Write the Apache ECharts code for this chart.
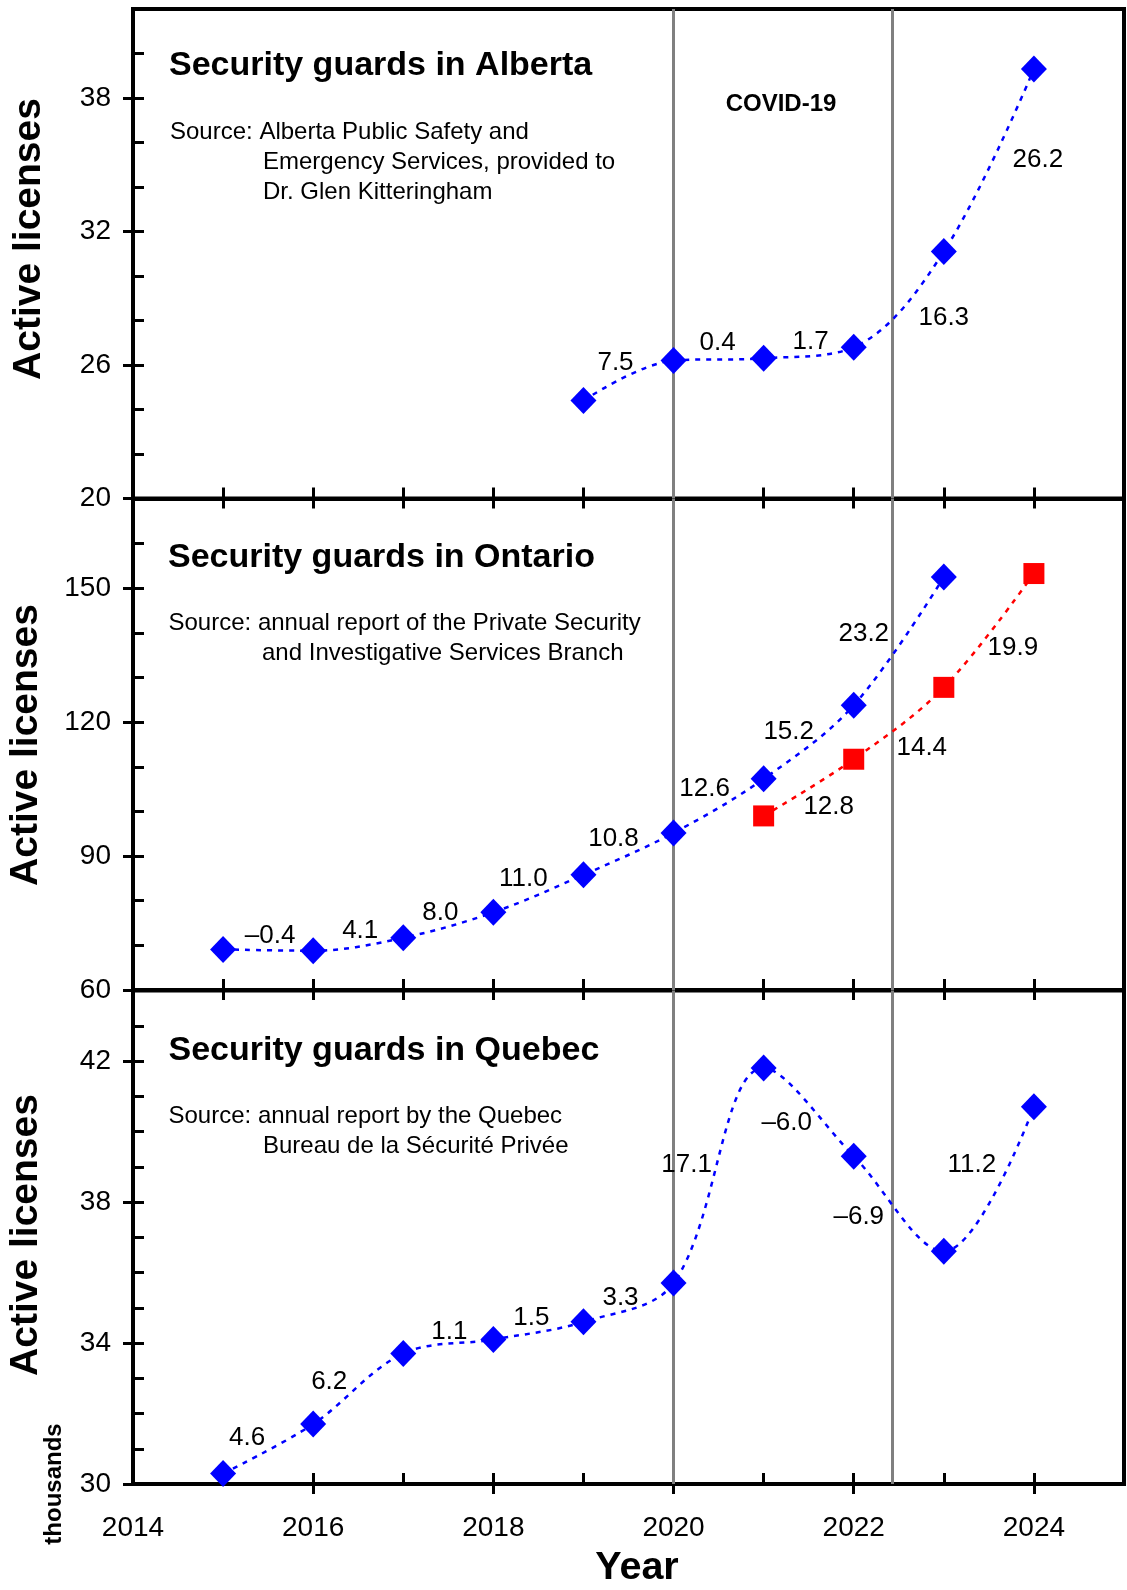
<!DOCTYPE html>
<html><head><meta charset="utf-8">
<script src="https://cdn.jsdelivr.net/npm/echarts@6/dist/echarts.min.js"></script>
<style>html,body{margin:0;padding:0;background:#fff}#c{width:1127px;height:1590px}</style>
</head><body><div id="c"></div>
<script>
// ---------------- DATA ----------------
const albertaYears = [2019, 2020, 2021, 2022, 2023, 2024];
const albertaValues = [24.4, 26.2, 26.3, 26.8, 31.1, 39.3];
const albertaGrowth = ['7.5', '0.4', '1.7', '16.3', '26.2'];

const ontarioYears = [2015, 2016, 2017, 2018, 2019, 2020, 2021, 2022, 2023];
const ontarioValues = [69.1, 68.8, 71.7, 77.4, 85.8, 95.2, 107.3, 123.8, 152.5];
const ontarioGrowth = ['\u20130.4', '4.1', '8.0', '11.0', '10.8', '12.6', '15.2', '23.2'];

const ontarioRedYears = [2021, 2022, 2023, 2024];
const ontarioRedValues = [99.0, 111.7, 127.8, 153.3];
const ontarioRedGrowth = ['12.8', '14.4', '19.9'];

const quebecYears = [2015, 2016, 2017, 2018, 2019, 2020, 2021, 2022, 2023, 2024];
const quebecValues = [30.3, 31.7, 33.7, 34.1, 34.6, 35.7, 41.8, 39.3, 36.6, 40.7];
const quebecGrowth = ['4.6', '6.2', '1.1', '1.5', '3.3', '17.1', '\u20136.0', '\u20136.9', '11.2'];

const covidLines = [2020, 2022.43];
const xTickYears = [2015, 2016, 2017, 2018, 2019, 2020, 2021, 2022, 2023, 2024];
const xLabelYears = [2014, 2016, 2018, 2020, 2022, 2024];
const xMajorYears = [2016, 2018, 2020, 2022, 2024];

const albertaMajor = [20, 26, 32, 38];
const albertaMinor = [22, 24, 28, 30, 34, 36, 40];
const ontarioMajor = [60, 90, 120, 150];
const ontarioMinor = [70, 80, 100, 110, 130, 140, 160];
const quebecMajor = [30, 34, 38, 42];
const quebecMinor = [31, 32, 33, 35, 36, 37, 39, 40, 41, 43];

// ---------------- LAYOUT / STYLE ----------------
const FONT = '"Liberation Sans", Arial, Helvetica, sans-serif';
const BLUE = '#0000ff', RED = '#ff0000', GRAY = '#808080';
const layout = [
  {top: 9, height: 489.5, ymin: 20, ymax: 42, major: albertaMajor, minor: albertaMinor, outX: xTickYears, labels: false},
  {top: 499, height: 491, ymin: 60, ymax: 170, major: ontarioMajor, minor: ontarioMinor, outX: xTickYears, labels: false},
  {top: 990.5, height: 493.5, ymin: 30, ymax: 44, major: quebecMajor, minor: quebecMinor, outX: xMajorYears, labels: true}
];
// pixel offsets of growth labels from segment midpoints
const albertaLabelOffsets = [[-13,-18],[-1,-17],[2,-11],[45,18],[49,0]];
const ontarioLabelOffsets = [[2,-14],[2,-13],[-8,-12],[-15,-15],[-15,-15],[-14,-17],[-20,-10],[-35,-7]];
const ontarioRedLabelOffsets = [[20,19],[23,25],[24,17]];
const quebecLabelOffsets = [[-21,-11],[-29,-7],[1,-15],[-7,-13],[-8,-5],[-32,-11],[-22,11],[-40,13],[-17,-14]];

const pairs = (xs, vs) => xs.map((x, i) => [x, vs[i]]);
const mids = (xs, vs, texts, offs) => texts.map((t, i) => ({
  value: [(xs[i] + xs[i + 1]) / 2, (vs[i] + vs[i + 1]) / 2],
  label: {formatter: t, offset: offs[i]}
}));

const grids = [], xAxes = [], yAxes = [], series = [];
layout.forEach((L, p) => {
  grids.push({left: 133, right: 3, top: L.top, height: L.height, show: true,
    borderColor: '#000', borderWidth: 4, backgroundColor: 'transparent'});
  const tickStyle = {color: '#000', width: 3};
  xAxes.push({gridIndex: p, type: 'value', min: 2014, max: 2025, position: 'bottom',
    axisLine: {show: false, onZero: false}, splitLine: {show: false},
    axisTick: {show: true, inside: true, length: 11, lineStyle: tickStyle, customValues: xTickYears},
    axisLabel: {show: false}});
  xAxes.push({gridIndex: p, type: 'value', min: 2014, max: 2025, position: 'bottom',
    axisLine: {show: false, onZero: false}, splitLine: {show: false},
    axisTick: {show: true, inside: false, length: 10, lineStyle: tickStyle, customValues: L.outX},
    axisLabel: {show: L.labels, customValues: xLabelYears, formatter: v => String(v),
      fontSize: 28, fontFamily: FONT, color: '#000', margin: 30}});
  yAxes.push({gridIndex: p, type: 'value', min: L.ymin, max: L.ymax, position: 'left',
    axisLine: {show: false, onZero: false}, splitLine: {show: false},
    axisTick: {show: true, inside: true, length: 11, lineStyle: tickStyle, customValues: L.major.concat(L.minor)},
    axisLabel: {show: false}});
  yAxes.push({gridIndex: p, type: 'value', min: L.ymin, max: L.ymax, position: 'left',
    axisLine: {show: false, onZero: false}, splitLine: {show: false},
    axisTick: {show: true, inside: false, length: 10, lineStyle: tickStyle, customValues: L.major},
    axisLabel: {show: true, customValues: L.major, formatter: v => String(v),
      fontSize: 28, fontFamily: FONT, color: '#000', margin: 22}});
});

function lineSeries(p, xs, vs, color, symbol, size) {
  return {type: 'line', xAxisIndex: 2 * p, yAxisIndex: 2 * p, data: pairs(xs, vs), smooth: 0.35,
    symbol: symbol, symbolSize: size, showSymbol: true, z: 10,
    itemStyle: {color: color, borderWidth: 0, opacity: 1}, lineStyle: {color: color, width: 2.5, type: [5, 6]}};
}
function labelSeries(p, items) {
  return {type: 'scatter', xAxisIndex: 2 * p, yAxisIndex: 2 * p, data: items, symbolSize: 0.1, z: 12,
    itemStyle: {color: 'transparent', opacity: 1}, silent: true,
    label: {show: true, position: 'inside', fontSize: 26, fontFamily: FONT, color: '#000',
      opacity: 1, textBorderWidth: 0, textShadowBlur: 0}};
}
function covidSeries(p) {
  return {type: 'line', xAxisIndex: 2 * p, yAxisIndex: 2 * p, data: [], z: 1, silent: true,
    markLine: {silent: true, symbol: 'none', z: 1, animation: false, label: {show: false},
      lineStyle: {color: GRAY, width: 3, type: 'solid', opacity: 1},
      data: covidLines.map(x => ({xAxis: x}))}};
}

series.push(covidSeries(0), covidSeries(1), covidSeries(2));
series.push(lineSeries(0, albertaYears, albertaValues, BLUE, 'diamond', [26, 27]));
series.push(labelSeries(0, mids(albertaYears, albertaValues, albertaGrowth, albertaLabelOffsets)));
series.push(lineSeries(1, ontarioYears, ontarioValues, BLUE, 'diamond', [26, 27]));
series.push(labelSeries(1, mids(ontarioYears, ontarioValues, ontarioGrowth, ontarioLabelOffsets)));
series.push(lineSeries(1, ontarioRedYears, ontarioRedValues, RED, 'rect', [21, 21]));
series.push(labelSeries(1, mids(ontarioRedYears, ontarioRedValues, ontarioRedGrowth, ontarioRedLabelOffsets)));
series.push(lineSeries(2, quebecYears, quebecValues, BLUE, 'diamond', [26, 27]));
series.push(labelSeries(2, mids(quebecYears, quebecValues, quebecGrowth, quebecLabelOffsets)));

function txt(x, y, text, size, bold, align, rot) {
  const font = (bold ? 'bold ' : '') + size + 'px ' + FONT;
  return {type: 'text', x: x, y: y, rotation: rot || 0, z: 20, silent: true,
    style: {text: text, x: 0, y: 0, font: font, fill: '#000',
      align: align || 'left', verticalAlign: 'middle', textAlign: align || 'left', textVerticalAlign: 'middle'}};
}
const graphics = [
  txt(169, 66, 'Security guards in Alberta', 34, true),
  txt(170, 132, 'Source: Alberta Public Safety and', 24, false),
  txt(263, 162, 'Emergency Services, provided to', 24, false),
  txt(263, 192, 'Dr. Glen Kitteringham', 24, false),
  txt(781, 104, 'COVID-19', 24, true, 'center'),
  txt(168, 558, 'Security guards in Ontario', 34, true),
  txt(168.5, 623, 'Source: annual report of the Private Security', 24, false),
  txt(262, 653, 'and Investigative Services Branch', 24, false),
  txt(168.5, 1051, 'Security guards in Quebec', 34, true),
  txt(168.5, 1116, 'Source: annual report by the Quebec', 24, false),
  txt(263, 1146, 'Bureau de la S\u00e9curit\u00e9 Priv\u00e9e', 24, false),
  txt(29, 239, 'Active licenses', 39, true, 'center', Math.PI / 2),
  txt(26.5, 745, 'Active licenses', 39, true, 'center', Math.PI / 2),
  txt(26.5, 1235, 'Active licenses', 39, true, 'center', Math.PI / 2),
  txt(54, 1484, 'thousands', 24, true, 'center', Math.PI / 2),
  txt(637, 1568, 'Year', 39.5, true, 'center')
];

const chart = echarts.init(document.getElementById('c'), null, {renderer: 'canvas'});
chart.setOption({
  animation: false,
  backgroundColor: '#fff',
  grid: grids, xAxis: xAxes, yAxis: yAxes, series: series,
  graphic: graphics
});
</script>
</body></html>
